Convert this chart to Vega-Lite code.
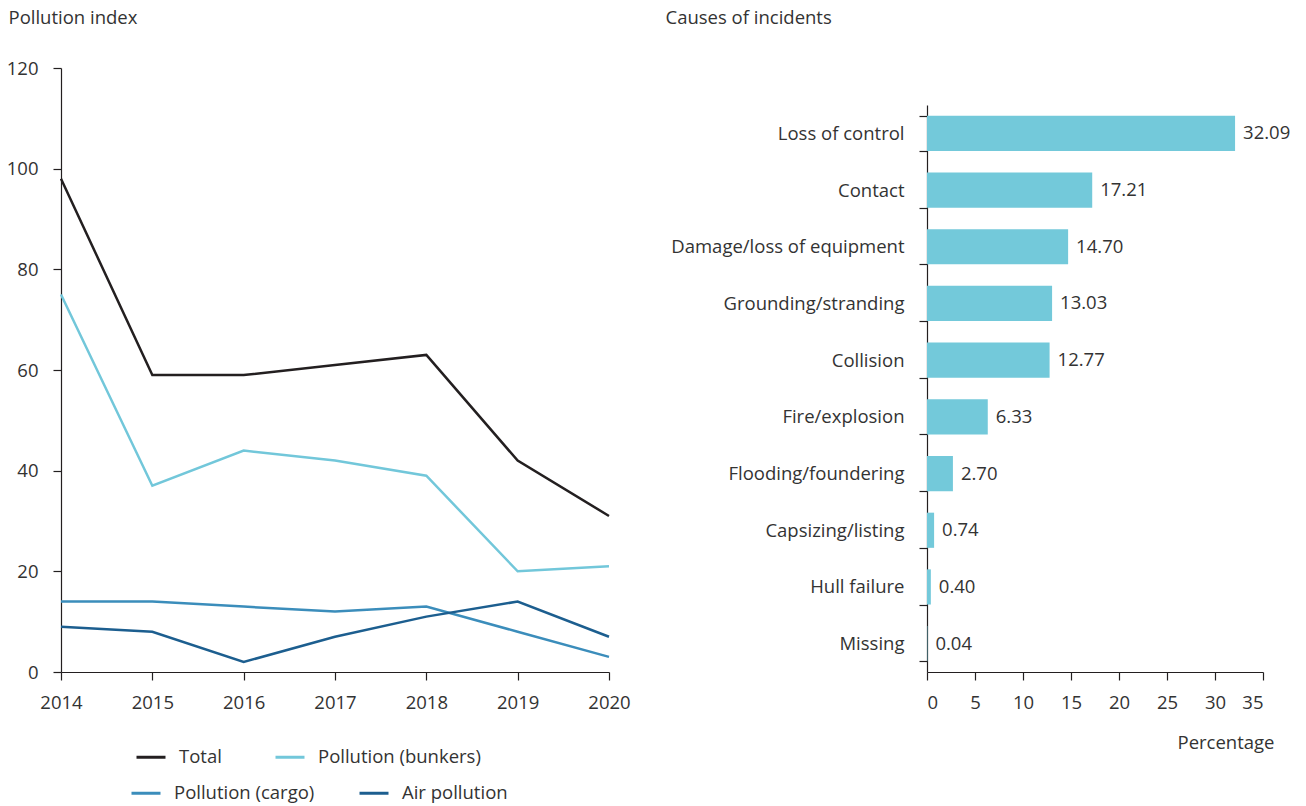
{
  "$schema": "https://vega.github.io/schema/vega-lite/v6.json",
  "padding": {"left": 6, "top": 8, "right": 5, "bottom": 5},
  "background": "white",
  "spacing": 34,
  "config": {
    "font": "Open Sans",
    "view": {"stroke": null},
    "axis": {
      "labelFont": "Open Sans", "labelFontSize": 18.5, "labelColor": "#333333", "labelLimit": 0,
      "titleFont": "Open Sans", "titleFontSize": 18.5, "titleFontWeight": "normal", "titleColor": "#333333",
      "domainColor": "#231f20", "tickColor": "#231f20", "tickSize": 8, "grid": false, "domainWidth": 1.2, "tickWidth": 1.2
    },
    "legend": {"labelFont": "Open Sans", "labelFontSize": 18.5, "labelColor": "#333333", "labelLimit": 0}
  },
  "hconcat": [
    {
      "width": 548,
      "height": 604,
      "data": {"values": [
        {"year": 2014, "series": "Total", "value": 98},
        {"year": 2015, "series": "Total", "value": 59},
        {"year": 2016, "series": "Total", "value": 59},
        {"year": 2017, "series": "Total", "value": 61},
        {"year": 2018, "series": "Total", "value": 63},
        {"year": 2019, "series": "Total", "value": 42},
        {"year": 2020, "series": "Total", "value": 31},
        {"year": 2014, "series": "Pollution (bunkers)", "value": 75},
        {"year": 2015, "series": "Pollution (bunkers)", "value": 37},
        {"year": 2016, "series": "Pollution (bunkers)", "value": 44},
        {"year": 2017, "series": "Pollution (bunkers)", "value": 42},
        {"year": 2018, "series": "Pollution (bunkers)", "value": 39},
        {"year": 2019, "series": "Pollution (bunkers)", "value": 20},
        {"year": 2020, "series": "Pollution (bunkers)", "value": 21},
        {"year": 2014, "series": "Pollution (cargo)", "value": 14},
        {"year": 2015, "series": "Pollution (cargo)", "value": 14},
        {"year": 2016, "series": "Pollution (cargo)", "value": 13},
        {"year": 2017, "series": "Pollution (cargo)", "value": 12},
        {"year": 2018, "series": "Pollution (cargo)", "value": 13},
        {"year": 2019, "series": "Pollution (cargo)", "value": 8},
        {"year": 2020, "series": "Pollution (cargo)", "value": 3},
        {"year": 2014, "series": "Air pollution", "value": 9},
        {"year": 2015, "series": "Air pollution", "value": 8},
        {"year": 2016, "series": "Air pollution", "value": 2},
        {"year": 2017, "series": "Air pollution", "value": 7},
        {"year": 2018, "series": "Air pollution", "value": 11},
        {"year": 2019, "series": "Air pollution", "value": 14},
        {"year": 2020, "series": "Air pollution", "value": 7}
      ]},
      "encoding": {
        "x": {"field": "year", "type": "ordinal", "scale": {"type": "point", "padding": 0},
              "axis": {"title": null, "labelAngle": 0, "labelPadding": 13}},
        "y": {"field": "value", "type": "quantitative", "scale": {"domain": [0, 120], "nice": false},
              "axis": {"values": [0, 20, 40, 60, 80, 100, 120], "labelPadding": 15,
                       "title": "Pollution index", "titleAngle": 0, "titleAlign": "left", "titleBaseline": "middle",
                       "titleX": -53, "titleY": -51}}
      },
      "layer": [
        {
          "transform": [{"filter": {"field": "series", "oneOf": ["Total", "Pollution (bunkers)"]}}],
          "mark": {"type": "line", "strokeWidth": 2.5},
          "encoding": {
            "color": {"field": "series", "type": "nominal",
              "scale": {"domain": ["Total", "Pollution (bunkers)"], "range": ["#231f20", "#72c7da"]},
              "legend": {"title": null, "orient": "none", "direction": "horizontal", "legendX": 74, "legendY": 673,
                         "symbolType": "stroke", "symbolSize": 841, "symbolStrokeWidth": 3, "labelOffset": 12,
                         "columnPadding": 47, "padding": 0}}
          }
        },
        {
          "transform": [{"filter": {"field": "series", "oneOf": ["Pollution (cargo)", "Air pollution"]}}],
          "mark": {"type": "line", "strokeWidth": 2.5},
          "encoding": {
            "stroke": {"field": "series", "type": "nominal",
              "scale": {"domain": ["Pollution (cargo)", "Air pollution"], "range": ["#3b8dbb", "#1c5e8f"]},
              "legend": {"title": null, "orient": "none", "direction": "horizontal", "legendX": 69, "legendY": 709,
                         "symbolType": "stroke", "symbolSize": 841, "symbolStrokeWidth": 3, "labelOffset": 12,
                         "columnPadding": 38, "padding": 0}}
          }
        }
      ]
    },
    {
      "width": 336,
      "height": 604,
      "data": {"values": [
        {"cause": "Loss of control", "value": 32.09},
        {"cause": "Contact", "value": 17.21},
        {"cause": "Damage/loss of equipment ", "value": 14.70},
        {"cause": "Grounding/stranding", "value": 13.03},
        {"cause": "Collision", "value": 12.77},
        {"cause": "Fire/explosion", "value": 6.33},
        {"cause": "Flooding/foundering", "value": 2.70},
        {"cause": "Capsizing/listing", "value": 0.74},
        {"cause": "Hull failure", "value": 0.40},
        {"cause": "Missing", "value": 0.04}
      ]},
      "encoding": {
        "y": {"field": "cause", "type": "nominal", "sort": null,
              "scale": {"range": [37, 604], "paddingInner": 0.38, "paddingOuter": 0.19},
              "axis": {"tickBand": "extent", "labelPadding": 15,
                       "title": "Causes of incidents", "titleAngle": 0, "titleAlign": "left", "titleBaseline": "middle",
                       "titleX": -262, "titleY": -51}},
        "x": {"field": "value", "type": "quantitative", "scale": {"domain": [0, 35], "nice": false},
              "axis": {"values": [0, 5, 10, 15, 20, 25, 30, 35], "labelPadding": 13,
                       "title": "Percentage", "titleAlign": "right", "titleBaseline": "middle", "titleX": 347, "titleY": 70}}
      },
      "layer": [
        {"mark": {"type": "bar", "color": "#73c9da"}},
        {"mark": {"type": "text", "align": "left", "baseline": "middle", "dx": 8, "fontSize": 18.5, "font": "Open Sans", "color": "#333333"},
         "encoding": {"text": {"field": "value", "type": "quantitative", "format": ".2f"}}}
      ]
    }
  ]
}
